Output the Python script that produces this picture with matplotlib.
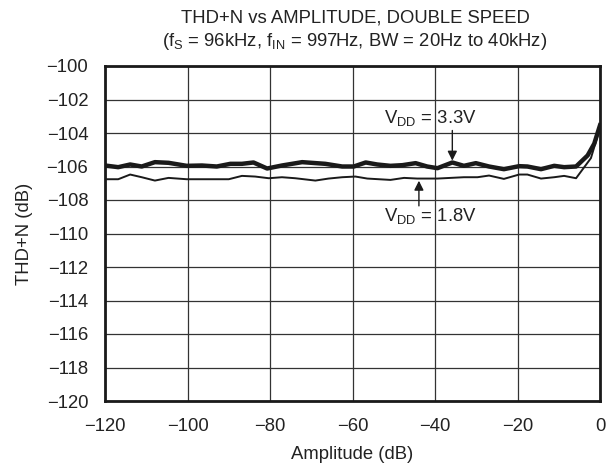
import matplotlib
matplotlib.use("Agg")
import matplotlib.pyplot as plt

plt.rcParams['font.family'] = ['Liberation Sans', 'DejaVu Sans']

# VDD = 3.3V
amp_33 = [-120, -116.8, -113.9, -111.1, -107.9, -104.6, -100.2, -96.5, -92.9, -89.6,
          -86.8, -84.0, -80.7, -77.1, -72.2, -66.6, -62.5, -59.7, -56.8, -54.0,
          -50.8, -47.9, -44.7, -41.9, -39.4, -35.8, -33.0, -30.1, -26.9, -23.3,
          -19.6, -17.6, -14.3, -11.1, -8.7, -5.8, -3.0, -1.4, 0]
thd_33 = [-105.94, -106.04, -105.88, -106.0, -105.74, -105.78, -105.96, -105.94, -106.0, -105.84,
          -105.84, -105.76, -106.12, -105.94, -105.74, -105.84, -106.0, -106.0, -105.76, -105.88,
          -105.96, -105.92, -105.8, -106.0, -106.1, -105.76, -105.96, -105.8, -106.0, -106.16,
          -105.98, -106.0, -106.16, -105.96, -106.04, -106.0, -105.34, -104.64, -103.54]

# VDD = 1.8V
amp_18 = [-120, -116.8, -113.9, -111.1, -107.9, -104.6, -100.2, -96.5, -90.0, -86.8,
          -83.6, -80.3, -77.1, -73.9, -69.0, -65.8, -62.5, -59.3, -56.4, -50.8,
          -47.5, -44.3, -39.4, -36.2, -33.0, -29.7, -26.9, -23.3, -19.6, -17.6,
          -14.3, -11.1, -8.7, -5.8, -2.2, 0]
thd_18 = [-106.76, -106.76, -106.48, -106.64, -106.84, -106.68, -106.76, -106.76, -106.76, -106.56,
          -106.6, -106.7, -106.64, -106.7, -106.84, -106.72, -106.64, -106.6, -106.72, -106.8,
          -106.68, -106.72, -106.72, -106.68, -106.64, -106.64, -106.54, -106.74, -106.48, -106.48,
          -106.72, -106.64, -106.56, -106.7, -105.5, -103.7]

title_line1 = "THD+N vs AMPLITUDE, DOUBLE SPEED"
title_line2 = r"(f$_\mathregular{S}$ = 96kHz, f$_\mathregular{IN}$ = 997Hz, BW = 20Hz to 40kHz)"
label_33 = r"V$_\mathregular{DD}$ = 3.3V"
label_18 = r"V$_\mathregular{DD}$ = 1.8V"
x_ticks = [-120, -100, -80, -60, -40, -20, 0]
y_ticks = [-100, -102, -104, -106, -108, -110, -112, -114, -116, -118, -120]

FS = 13.3
TXT = '#222222'

fig = plt.figure(figsize=(6.16, 4.66), dpi=100)
ax = fig.add_axes([105/616, 1 - 401/466, 495/616, 335/466])

ax.plot(amp_33, thd_33, color='#1a1a1a', lw=3.2, zorder=3)
ax.plot(amp_18, thd_18, color='#1a1a1a', lw=1.4, zorder=3)

ax.set_xlim(-120, 0)
ax.set_ylim(-120, -100)
ax.set_xticks(x_ticks)
ax.set_yticks(y_ticks)
ax.set_xticklabels([f"\u2212{abs(v)}" if v < 0 else f"{v}" for v in x_ticks])
ax.set_yticklabels([f"\u2212{abs(v)}" for v in y_ticks])
ax.tick_params(axis='y', length=0, labelsize=FS, pad=12, colors=TXT)
ax.tick_params(axis='x', length=0, labelsize=FS, pad=12, colors=TXT)
ax.grid(True, color='#333333', lw=0.9)
ax.set_axisbelow(True)
for s in ax.spines.values():
    s.set_linewidth(2.0)
    s.set_color('#1a1a1a')

ax.set_xlabel("Amplitude (dB)", fontsize=FS, color=TXT, labelpad=8)
ax.set_ylabel("THD+N (dB)", fontsize=FS, color=TXT, labelpad=10)

fig.text(355/616, 1 - 18/466, title_line1, ha='center', va='center', fontsize=FS, color=TXT)
fig.text(355/616, 1 - 42/466, title_line2, ha='center', va='center', fontsize=FS, color=TXT)

arrow_kw = dict(arrowstyle='-|>', color='#1a1a1a', lw=1.0, mutation_scale=14,
                shrinkA=0, shrinkB=0)
ax.annotate("", xy=(-35.8, -105.65), xytext=(-35.8, -103.85), arrowprops=arrow_kw)
ax.annotate("", xy=(-43.9, -106.85), xytext=(-43.9, -108.35), arrowprops=arrow_kw)
ax.text(-41, -103.1, label_33, ha='center', va='center', fontsize=FS, color=TXT)
ax.text(-41, -108.95, label_18, ha='center', va='center', fontsize=FS, color=TXT)

fig.savefig("out.png", dpi=100)
